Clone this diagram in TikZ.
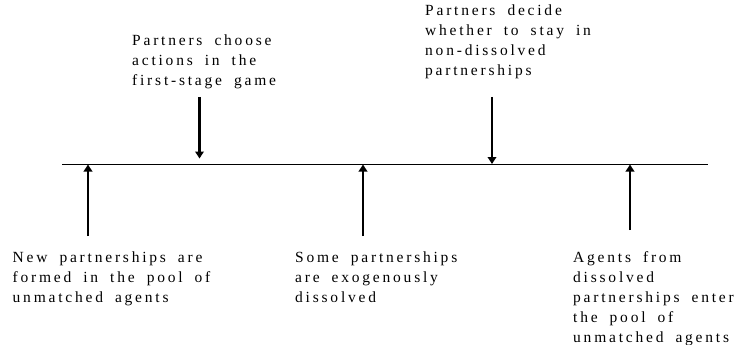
\documentclass[tikz,border=0pt]{standalone}
\usepackage{fontspec}
\newfontfamily\spacedserif[LetterSpace=18,WordSpace=1.8]{Liberation Serif}
\usetikzlibrary{arrows.meta}
\tikzset{
  label text/.style={anchor=north west, inner sep=0pt, align=left,
    font=\spacedserif\fontsize{15.5}{20}\selectfont},
  timeline/.style={line width=1pt},
  event arrow/.style={line width=2.1pt, -{Triangle[width=8.5pt,length=7pt]}}
}
\begin{document}
\begin{tikzpicture}[x=1pt,y=-1pt]
\useasboundingbox (0,0) rectangle (734,345);
% timeline
\coordinate (lineL) at (62,164);
\coordinate (lineR) at (708,164);
\draw[timeline] (lineL) -- (lineR);
% labels
\node[label text] (t1) at (132,34.4) {Partners choose\\actions in the\\first-stage game};
\node[label text] (t2) at (425,4.4) {Partners decide\\whether to stay in\\non-dissolved\\partnerships};
\node[label text] (b1) at (12.5,251.4) {New partnerships are\\formed in the pool of\\unmatched agents};
\node[label text] (b2) at (295,251.4) {Some partnerships\\are exogenously\\dissolved};
\node[label text] (b3) at (573,251.4) {Agents from\\dissolved\\partnerships enter\\the pool of\\unmatched agents};
% arrow end points
\coordinate (u1s) at (88,236);  \coordinate (u1e) at (88,164.5);
\coordinate (u2s) at (363,236); \coordinate (u2e) at (363,164.5);
\coordinate (u3s) at (630,230); \coordinate (u3e) at (630,164.5);
\coordinate (d1s) at (199.5,97); \coordinate (d1e) at (199.5,158.5);
\coordinate (d2s) at (492,97);   \coordinate (d2e) at (492,164);
\draw[event arrow] (u1s) -- (u1e);
\draw[event arrow] (u2s) -- (u2e);
\draw[event arrow] (u3s) -- (u3e);
\draw[event arrow] (d1s) -- (d1e);
\draw[event arrow] (d2s) -- (d2e);
\end{tikzpicture}
\end{document}
